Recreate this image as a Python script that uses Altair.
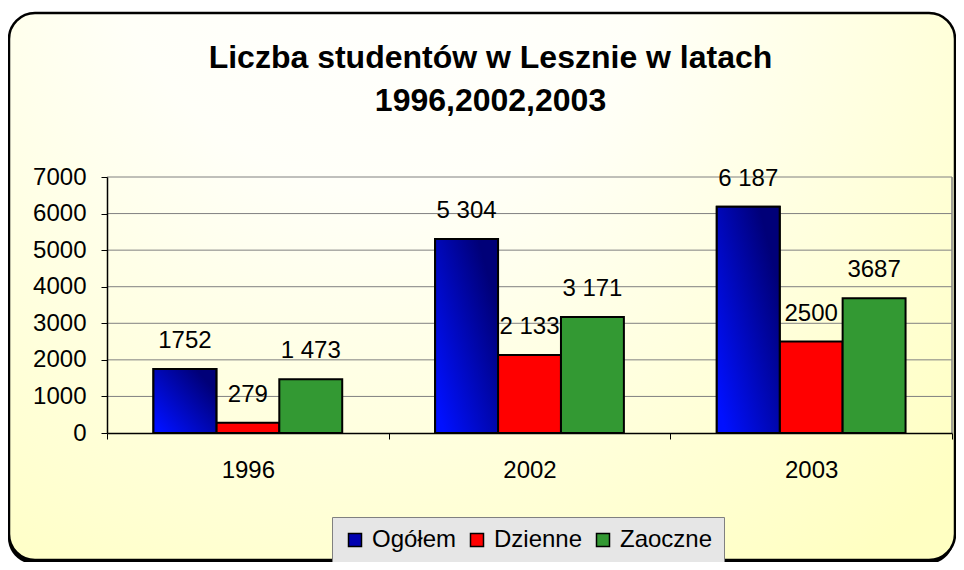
import altair as alt
import pandas as pd

# ---- data -------------------------------------------------------------
years = ["1996", "2002", "2003"]
series = ["Ogółem", "Dzienne", "Zaoczne"]
ogolem = [1752, 5304, 6187]
dzienne = [279, 2133, 2500]
zaoczne = [1473, 3171, 3687]
labels_ogolem = ["1752", "5 304", "6 187"]
labels_dzienne = ["279", "2 133", "2500"]
labels_zaoczne = ["1 473", "3 171", "3687"]
y_ticks = [0, 1000, 2000, 3000, 4000, 5000, 6000, 7000]
colors = ["#0000b0", "#ff0000", "#339933"]
title_lines = ["Liczba studentów w Lesznie w latach", "1996,2002,2003"]

rows = []
for s, vals, labs in zip(series, [ogolem, dzienne, zaoczne],
                         [labels_ogolem, labels_dzienne, labels_zaoczne]):
    for yr, v, lab in zip(years, vals, labs):
        rows.append({"Rok": yr, "Seria": s, "Wartość": v, "Etykieta": lab})
df = pd.DataFrame(rows)
grid_df = pd.DataFrame({"Wartość": y_ticks[1:]})
one = pd.DataFrame({"k": [0]})

FONT = "Liberation Sans"
W, H = 845, 256

x_enc = alt.X("Rok:N", sort=years, title=None,
              scale=alt.Scale(domain=years, paddingInner=0, paddingOuter=0),
              axis=alt.Axis(labelAngle=0, tickBand="extent", tickSize=6,
                            tickColor="black", domainColor="black", domainWidth=1.5,
                            labelFont=FONT, labelFontSize=24, labelColor="black",
                            labelPadding=19, grid=False, zindex=1))
xoff_enc = alt.XOffset("Seria:N", sort=series,
                       scale=alt.Scale(domain=series, paddingInner=0, paddingOuter=0.738))
y_enc = alt.Y("Wartość:Q", title=None,
              scale=alt.Scale(domain=[0, 7000], nice=False),
              axis=alt.Axis(values=y_ticks, format="d", tickSize=6, tickColor="black",
                            domainColor="black", domainWidth=1.5, labelFont=FONT,
                            labelFontSize=24, labelColor="black", labelPadding=15,
                            grid=False, zindex=1))

bg_grad = alt.RadialGradient(
    gradient="radial", x1=0.4, y1=0.1, r1=0.0, x2=0.4, y2=0.1, r2=0.85,
    stops=[alt.GradientStop(offset=0, color="#ffffff"),
           alt.GradientStop(offset=0.35, color="#fffff8"),
           alt.GradientStop(offset=1, color="#ffffc2")])

shadow = alt.Chart(one).mark_rect(fill="black", cornerRadius=26).encode(
    x=alt.value(-99), x2=alt.value(W + 2), y=alt.value(-161), y2=alt.value(H + 131))
background = alt.Chart(one).mark_rect(
    fill=bg_grad, stroke="black", strokeWidth=2.5, cornerRadius=26).encode(
    x=alt.value(-98), x2=alt.value(W + 3), y=alt.value(-164), y2=alt.value(H + 127))

grid = alt.Chart(grid_df).mark_rule(color="#808080", strokeWidth=1).encode(
    y=y_enc, x=alt.value(0), x2=alt.value(W))
right_border = alt.Chart(one).mark_rule(color="#808080", strokeWidth=1.5).encode(
    x=alt.value(W), y=alt.value(0), y2=alt.value(H))

bars = alt.Chart(df).mark_bar(stroke="black", strokeWidth=2).encode(
    x=x_enc, xOffset=xoff_enc, y=y_enc,
    color=alt.Color("Seria:N", scale=alt.Scale(domain=series, range=colors),
                    legend=alt.Legend(title=None, orient="none", direction="horizontal",
                                      legendX=225, legendY=340,
                                      symbolType="square", symbolSize=169,
                                      symbolStrokeColor="black", symbolStrokeWidth=1.5,
                                      labelFont=FONT, labelFontSize=24, labelColor="black",
                                      labelOffset=5, columnPadding=8, padding=11,
                                      fillColor="#e6e6e6", strokeColor="#808080")))

blue_grad = alt.LinearGradient(
    gradient="linear", x1=0.1, y1=0.95, x2=0.9, y2=0.25,
    stops=[alt.GradientStop(offset=0, color="#0010ff"),
           alt.GradientStop(offset=1, color="#000078")])
grad_bars = alt.Chart(df).transform_filter(alt.datum.Seria == "Ogółem").mark_bar(
    stroke="black", strokeWidth=2, fill=blue_grad).encode(
    x=x_enc, xOffset=xoff_enc, y=y_enc)

texts = alt.Chart(df).mark_text(
    dy=-21, baseline="alphabetic", align="center", font=FONT, fontSize=24, color="black"
).encode(x=x_enc, xOffset=xoff_enc, y=y_enc, text="Etykieta:N")

chart = alt.layer(shadow, background, grid, right_border, bars, grad_bars, texts).properties(
    width=W, height=H,
    title=alt.TitleParams(text=title_lines, fontSize=32, font=FONT, fontWeight="bold",
                          lineHeight=43, anchor="middle", dx=-39, offset=-138,
                          baseline="bottom", color="black"),
    autosize=alt.AutoSizeParams(type="none"),
    padding={"left": 99, "top": 169, "right": 4, "bottom": 129},
).configure_view(stroke=None).configure(background="white")

chart.save("out.html", embed_options={"renderer": "svg", "actions": False})
